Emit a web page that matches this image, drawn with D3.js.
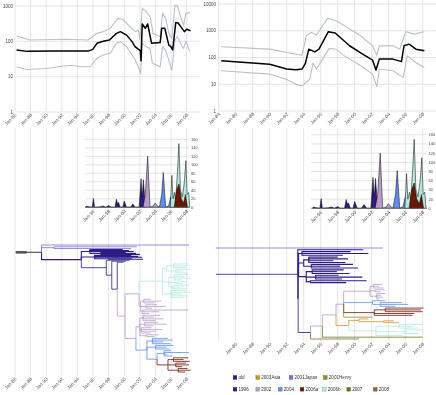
<!DOCTYPE html>
<html>
<head>
<meta charset="utf-8">
<script src="https://cdn.jsdelivr.net/npm/d3@7"></script>
<style>
  body { margin: 0; background: #fff; }
  svg { display: block; font-family: "Liberation Sans", Arial, sans-serif; will-change: transform; }
</style>
</head>
<body>
<svg id="fig" width="436" height="395"></svg>
<script>
// ---- data ----
const yearsL = d3.range(1986, 2009, 2);
const yearsR = d3.range(1984, 2009, 2);
const yearsTreeR = d3.range(1986, 2009, 2);
const histYears = d3.range(1996, 2009, 2);
const histTicks = d3.range(0, 161, 20);
const decadesL = [1, 10, 100, 1000];
const decadesR = [1, 10, 100, 1000, 10000];

const clades = ["old", "2003Asia", "2001Japan", "2001Henry", "1996", "2002", "2004", "2006a", "2006b", "2007", "2008"];
const cladeColors = ["#1e1e86", "#d8921e", "#7c6fd8", "#8e8c1c", "#2e1c84", "#b89ccb", "#5b8ff0", "#6a1806", "#b4eadf", "#5c7d1e", "#93673c"];

// skyline, left
const medianL = [[1986.2,57],[1987.5,52],[1991,53],[1995.4,53],[1996.0,60],[1996.5,88],[1997.3,100],[1998.1,109],[1999.0,168],[1999.5,188],[2000.3,150],[2001.0,98],[2001.4,70],[2001.8,60],[2002.05,55],[2002.15,28],[2002.3,310],[2002.7,233],[2003.0,310],[2003.5,88],[2004.6,92],[2004.8,233],[2005.2,233],[2005.7,79],[2006.0,70],[2006.2,57],[2006.6,340],[2006.9,330],[2007.4,233],[2007.7,188],[2008.0,220],[2008.5,200]];
const upperL = [[1986.2,142],[1987.9,109],[1992.6,114],[1995.4,109],[1996.5,168],[1997.3,188],[1998.2,233],[1999.2,450],[1999.9,400],[2000.5,290],[2001.4,188],[2001.8,210],[2002.0,109],[2002.3,860],[2002.8,690],[2003.3,500],[2003.7,168],[2004.6,135],[2004.9,620],[2005.3,450],[2005.7,168],[2006.1,122],[2006.5,1040],[2006.8,1040],[2007.2,500],[2007.6,290],[2007.9,620],[2008.4,650]];
const lowerL = [[1986.2,19],[1987.5,16],[1990.1,17],[1992.2,20],[1993.3,21],[1994.3,19],[1995.6,19],[1996.5,33],[1997.3,41],[1998.2,46],[1999.0,88],[1999.5,98],[2000.3,70],[2001.4,30],[2001.8,19],[2002.1,12],[2002.3,88],[2002.8,70],[2003.3,63],[2003.6,24],[2004.6,19],[2004.9,70],[2005.3,57],[2005.7,30],[2006.1,15],[2006.5,110],[2006.8,135],[2007.2,88],[2007.6,63],[2007.9,100],[2008.4,51]];

// skyline, right
const medianR = [[1984.3,75],[1990.0,56],[1992.0,37],[1993.1,35],[1993.8,37],[1994.2,60],[1994.6,205],[1995.3,163],[1995.8,205],[1996.9,920],[1997.7,820],[1999.4,275],[2000.7,150],[2002.1,80],[2002.5,34],[2002.9,87],[2004.5,87],[2005.5,70],[2005.8,275],[2006.4,316],[2007.2,205],[2008.2,180]];
const upperR = [[1984.3,251],[1990.0,205],[1993.1,133],[1993.8,122],[1994.3,650],[1994.9,870],[1995.5,690],[1996.8,2900],[1997.8,2370],[1998.8,1540],[2000.7,650],[2002.1,273],[2002.6,122],[2002.9,273],[2004.5,273],[2005.3,205],[2006.0,920],[2007.0,750],[2008.2,920]];
const lowerR = [[1984.3,32],[1990.0,24],[1992.0,15],[1993.1,10],[1993.8,8.7],[1994.7,15],[1995.1,61],[1995.5,37],[1997.0,220],[1997.8,205],[1998.8,115],[2000.7,49],[2002.1,24],[2002.6,8],[2002.9,37],[2004.5,32],[2005.7,18],[2006.2,115],[2007.2,65],[2008.2,42]];

// sampled sequences per clade
const hist1996 = [[1995.0,0],[1995.2,3],[1995.5,1],[1995.9,0],[1996.05,21],[1996.2,0],[1996.9,1],[1997.3,3],[1997.6,0],[1998.0,4],[1998.3,0],[1998.8,0],[1999.0,19],[1999.15,8],[1999.25,12],[1999.5,0],[1999.8,0],[2000.0,15],[2000.3,0],[2000.8,0],[2001.1,8],[2001.4,0],[2001.9,0],[2002.15,67],[2002.3,25],[2002.45,65],[2002.7,0]];
const hist2002 = [[2002.4,0],[2002.7,30],[2003.0,120],[2003.3,0],[2003.7,3],[2003.95,10],[2004.2,4],[2004.5,0]];
const hist2004 = [[2004.5,0],[2004.8,30],[2005.0,82],[2005.3,0],[2005.7,4],[2005.95,25],[2006.2,0]];
const hist2006b = [[2005.9,0],[2006.1,75],[2006.25,20],[2006.45,35],[2006.6,18],[2006.85,95],[2007.0,150],[2007.2,40],[2007.45,25],[2007.7,60],[2007.9,110],[2008.05,30],[2008.25,35],[2008.4,0]];
const hist2006a = [[2006.4,0],[2006.7,40],[2007.0,55],[2007.3,20],[2007.6,10],[2007.85,30],[2008.1,0]];
const histSeries = [["1996", hist1996], ["2002", hist2002], ["2004", hist2004], ["2006b", hist2006b], ["2006a", hist2006a]];

// trees: [date, clade, children]; leaves are [date] or [date, clade]
const leftTeal = [2004.9, "2006b", [
  [2005.4, "2006b", [
    [2006.3, "2006b", [[2008.3], [2008.1], [2007.9]]],
    [2006.6, "2006b", [[2008.4], [2007.6], [2008.0]]]
  ]],
  [2005.7, "2006b", [
    [2006.4, "2006b", [[2008.2], [2007.8], [2008.5], [2007.4]]],
    [2006.8, "2006b", [[2008.0], [2007.5]]],
    [2006.2, "2006b", [[2008.3], [2007.7], [2008.1]]]
  ]],
  [2006.0, "2006b", [[2007.9], [2008.4], [2007.3], [2008.2], [2007.6]]]
]];
const leftLilacA = [2002.1, "2002", [
  [2002.5, "2002", [[2003.4], [2004.8], [2003.9]]],
  [2002.8, "2002", [[2004.2], [2005.3], [2003.6]]],
  [2002.3, "2002", [[2008.2], [2004.5], [2003.2]]]
]];
const leftLilacB = [2002.0, "2002", [
  [2002.4, "2002", [[2004.6], [2003.8], [2005.0], [2004.0]]],
  [2002.6, "2002", [[2004.3], [2005.4], [2003.7]]],
  [2002.2, "2002", [[2003.5], [2004.9], [2004.1], [2003.3]]],
  [2002.8, "2002", [[2004.4], [2003.9]]]
]];
const leftRed = [2005.6, "2006a", [
  [2006.3, "2006a", [[2008.2], [2007.6], [2008.4]]],
  [2006.6, "2006a", [[2007.9], [2008.3], [2007.4]]],
  [2006.9, "2006a", [[2008.1], [2008.5], [2007.8]]]
]];
const leftBlue = [2002.9, "2004", [
  [2003.6, "2004", [[2005.6], [2006.2], [2005.0], [2005.9]]],
  [2004.0, "2004", [[2006.3], [2005.4], [2005.8]]],
  [2004.2, "2004", [
    [2005.1, "2004", [[2006.0], [2008.3], [2005.5], [2006.1]]],
    leftRed
  ]]
]];
const leftLilac = [2000.1, "2002", [
  [2001.9, "2002", [leftTeal, leftLilacA]],
  [2001.5, "2002", [leftLilacB, leftBlue]]
]];
const left1996 = [1994.5, "1996", [
  [1995.6, "1996", [[1999.8], [2000.6], [2001.2], [1997.0, "1996", [[2000.2], [2001.5], [2002.0]]]]],
  [1996.2, "1996", [[2000.9], [2001.8], [2002.3], [1998.0, "1996", [[2001.0], [2002.4]]]]],
  [1997.7, "old", [[2000.7], [1998.4, "old", [[2000.2], [1999.1, "old", [[1999.9], leftLilac]]]]]]
]];
const leftTree = [1986.1, "root", [
  [1989.4, "root", [
    [2008.3, "2001Japan"],
    [1991.0, "2001Japan", [[2001.6], [2000.9]]],
    left1996
  ]]
]];
const rootBarL = [1986.1, 1987.5];

const right1996 = [1993.4, "1996", [
  [1993.8, "1996", [[1999.5], [2001.6], [1998.6]]],
  [1994.0, "1996", [
    [1994.6, "1996", [[1998.0], [1999.2], [1997.5], [1998.9]]],
    [1994.9, "1996", [[1999.8], [1998.3], [2000.4]]]
  ]],
  [1994.3, "1996", [
    [1995.0, "1996", [[1998.7], [1997.9], [1999.4]]],
    [1995.4, "1996", [[1998.1], [2000.9], [1998.5]]],
    [1994.8, "1996", [[2001.4], [1999.0]]]
  ]]
]];
const rightLilac = [2001.8, "2002", [
  [2002.2, "2002", [[2003.2], [2002.9], [2003.4]]],
  [2002.4, "2002", [[2003.5], [2003.0]]],
  [2002.6, "2002", [[2003.6], [2003.1], [2003.3], [2002.9]]]
]];
const rightBlue = [2002.1, "2004", [[2003.6], [2003.0, "2004", [[2005.6], [2006.3], [2004.8]]]]];
const rightRed = [2002.3, "2006a", [[2003.6, "2006a", [[2008.1], [2007.8], [2008.0]]], [2007.0], [2006.8]]];
const rightAsia = [2000.5, "2003Asia", [[2001.6], [2003.4, "2003Asia", [[2004.6], [2005.2]]]]];
const rightTeal = [2002.5, "2006b", [
  [2005.2, "2006b", [[2007.9], [2006.8], [2007.4]]],
  [2005.8, "2006b", [[2008.0], [2006.2], [2007.6]]],
  [2005.6]
]];
const rightTree = [1983.5, "old", [
  [2003.3, "2001Japan"],
  [1985.0, "old", [
    [1986.8, "old", [
      [1993.3, "old", [
        [2001.0, "1996"],
        [1993.35, "old", [
          right1996,
          [1994.8, "old", [
            [1996.2, "2002", [
              [1997.8, "2002", [
                [1998.7, "2002", [rightLilac, rightBlue, rightRed, [2002.1, "2001Henry"]]],
                [1999.3, "2003Asia", [rightAsia, rightTeal]]
              ]],
              [2008.0, "2007"]
            ]],
            [2000.5, "2008"]
          ]]
        ]]
      ]]
    ]]
  ]]
]];

// ---- drawing ----
const svg = d3.select("#fig");
const gridColor = "#dedede";
const fmtJan = d => "Jan-" + String(d % 100).padStart(2, "0");
const cladeColor = d3.scaleOrdinal().domain(clades).range(cladeColors);
const colorOf = c => c === "root" ? "#000" : cladeColor(c);

const xL = d3.scaleLinear().domain([1986, 2008]).range([15, 186.7]);
const xR = d3.scaleLinear().domain([1984, 2008]).range([218.7, 422.7]);

function dateAxis(g, x, years, y) {
  g.append("g")
    .attr("transform", `translate(0,${y})`)
    .call(d3.axisBottom(x).tickValues(years).tickSize(0).tickPadding(1).tickFormat(fmtJan))
    .call(a => a.select(".domain").remove())
    .attr("font-size", 4.8)
    .attr("font-family", "Liberation Sans, Arial, sans-serif")
    .selectAll("text")
    .attr("fill", "#555")
    .attr("transform", "rotate(-45)")
    .style("text-anchor", "end")
    .attr("dx", "-0.3em")
    .attr("dy", "0.5em");
}

function vGrid(g, x, years, y1, y2) {
  g.append("g").selectAll("line").data(years).join("line")
    .attr("x1", d => x(d)).attr("x2", d => x(d))
    .attr("y1", y1).attr("y2", y2)
    .attr("stroke", gridColor).attr("stroke-width", 0.8);
}

function skyline(x, y, years, decades, xEnd, labelX, median, upper, lower) {
  const g = svg.append("g");
  const [y0] = y.range();
  vGrid(g, x, years, 0, y0);
  g.append("g").selectAll("line").data(decades).join("line")
    .attr("x1", x.range()[0]).attr("x2", xEnd)
    .attr("y1", d => y(d)).attr("y2", d => y(d))
    .attr("stroke", gridColor).attr("stroke-width", 0.8);
  g.append("g").selectAll("text").data(decades).join("text")
    .attr("x", labelX).attr("y", d => Math.max(y(d), 3))
    .attr("dy", "0.35em")
    .attr("text-anchor", "end")
    .attr("font-size", 4.5)
    .attr("fill", "#444")
    .text(d => d);
  const line = d3.line().x(d => x(d[0])).y(d => y(d[1]));
  [upper, lower].forEach(s => {
    g.append("path").datum(s).attr("d", line)
      .attr("fill", "none").attr("stroke", "#b9c0cd").attr("stroke-width", 1.1);
  });
  g.append("path").datum(median).attr("d", line)
    .attr("fill", "none").attr("stroke", "#000").attr("stroke-width", 1.5)
    .attr("stroke-linejoin", "round");
  dateAxis(g, x, years, y0);
}

function histogram(x, y, xStart, xEnd, labelX) {
  const g = svg.append("g");
  const [y0] = y.range();
  g.append("g").selectAll("line").data(histTicks).join("line")
    .attr("x1", xStart).attr("x2", xEnd)
    .attr("y1", d => y(d)).attr("y2", d => y(d))
    .attr("stroke", gridColor).attr("stroke-width", 0.8);
  const area = d3.area().x(d => x(d[0])).y0(y0).y1(d => y(d[1]));
  g.append("g").selectAll("path").data(histSeries).join("path")
    .attr("d", d => area(d[1]))
    .attr("fill", d => cladeColor(d[0]))
    .attr("stroke", "#000").attr("stroke-width", 0.5)
    .attr("stroke-linejoin", "round");
  g.append("line")
    .attr("x1", xStart).attr("x2", xEnd).attr("y1", y0).attr("y2", y0)
    .attr("stroke", "#777").attr("stroke-width", 0.7);
  g.append("g").selectAll("text").data(histTicks).join("text")
    .attr("x", labelX).attr("y", d => y(d))
    .attr("dy", "0.35em")
    .attr("font-size", 4)
    .attr("fill", "#444")
    .text(d => d);
  dateAxis(g, x, histYears, y0 + 1);
}

function toNode(a, clade) {
  const n = { date: a[0], clade: a[1] || clade };
  if (a[2]) n.children = a[2].map(c => toNode(c, n.clade));
  return n;
}

// leaves of the "tight" clades are packed closer together
function tree(data, x, yTop, yBottom, clipX, tight) {
  const root = d3.hierarchy(toNode(data));
  const leaves = root.leaves();
  let acc = 0;
  const pos = leaves.map((d, i) => {
    if (i > 0) acc += tight.includes(d.data.clade) ? 0.55 : 1;
    return acc;
  });
  const y = d3.scaleLinear().domain([0, acc]).range([yTop, yBottom]);
  leaves.forEach((d, i) => d.y = y(pos[i]));
  root.eachAfter(d => {
    if (d.children) d.y = (d.children[0].y + d.children[d.children.length - 1].y) / 2;
  });
  const id = "clip" + Math.round(clipX);
  svg.append("clipPath").attr("id", id)
    .append("rect").attr("x", clipX).attr("y", 0).attr("width", 436 - clipX).attr("height", 395);
  const g = svg.append("g").attr("clip-path", `url(#${id})`);
  g.selectAll("path").data(root.descendants().slice(1)).join("path")
    .attr("d", d => `M${x(d.parent.data.date)},${d.parent.y}V${d.y}H${x(d.data.date)}`)
    .attr("fill", "none")
    .attr("stroke", d => colorOf(d.data.clade))
    .attr("stroke-width", d => d.data.clade === "1996" ? 1.1 : 0.8);
  return { g, root };
}

// top skyline plots
skyline(xL, d3.scaleLog().domain([1, 1000]).range([112, 6]), yearsL, decadesL, 200, 13, medianL, upperL, lowerL);
skyline(xR, d3.scaleLog().domain([1, 10000]).range([111, 4]), yearsR, decadesR, 436, 216, medianR, upperR, lowerR);

// tree gridlines (run through the middle panels as well)
vGrid(svg, xL, yearsL, 128, 376);
vGrid(svg, xR, yearsR, 128, 341);

// middle histograms
histogram(xL, d3.scaleLinear().domain([0, 160]).range([207.3, 139.3]), 85, 189, 191);
histogram(xR, d3.scaleLinear().domain([0, 160]).range([208.3, 134.7]), 311, 427, 428.5);

// trees
const tl = tree(leftTree, xL, 245, 372, 0, ["1996", "old"]);
tl.g.append("rect")
  .attr("x", xL(rootBarL[0])).attr("y", tl.root.y - 1.3)
  .attr("width", xL(rootBarL[1]) - xL(rootBarL[0])).attr("height", 2.6)
  .attr("fill", "#555");
dateAxis(svg, xL, yearsL, 376);
tree(rightTree, xR, 248, 339, 216, []);
dateAxis(svg, xR, yearsTreeR, 341);

// legend
const legendX = [[235, 257.7, 291, 325.3], [235, 257.7, 280.3, 302, 324.3, 348.7, 375.3]];
const legendY = [377.5, 389.3];
[clades.slice(0, 4), clades.slice(4)].forEach((row, r) => {
  const lg = svg.append("g").selectAll("g").data(row).join("g")
    .attr("transform", (d, i) => `translate(${legendX[r][i]},${legendY[r]})`);
  lg.append("rect")
    .attr("x", -1.8).attr("y", -1.8).attr("width", 3.6).attr("height", 3.6)
    .attr("fill", d => cladeColor(d))
    .attr("stroke", d => d3.color(cladeColor(d)).darker(1.2)).attr("stroke-width", 0.4);
  lg.append("text")
    .attr("x", 3.5).attr("dy", "0.35em")
    .attr("font-size", 4.6)
    .attr("fill", "#333")
    .text(d => d);
});
</script>
</body>
</html>
